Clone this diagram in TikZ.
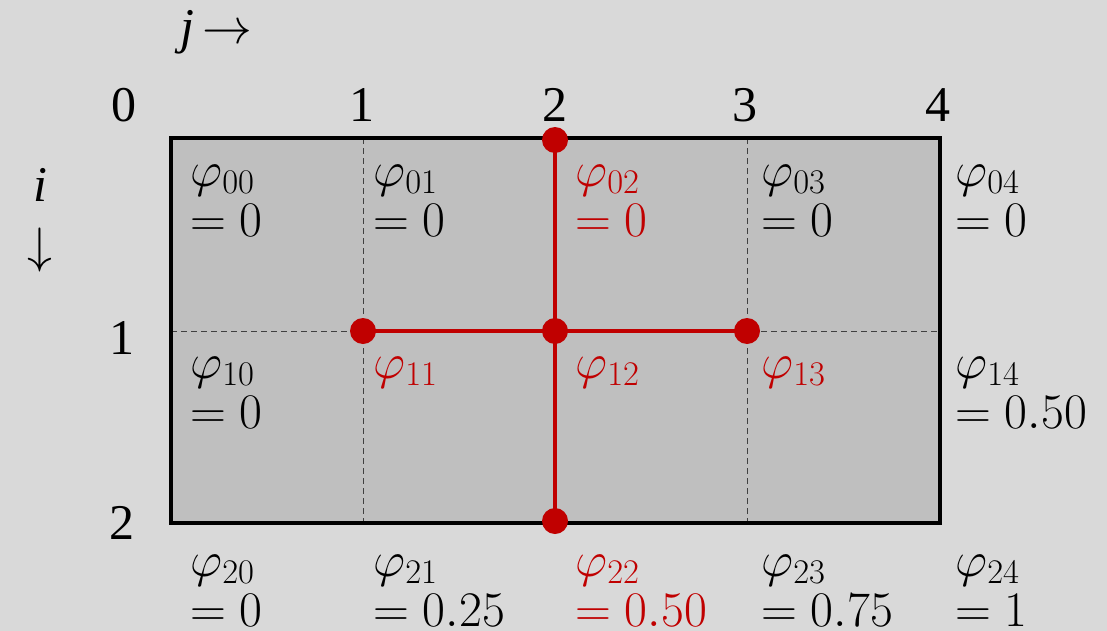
\documentclass[tikz,border=0pt]{standalone}
\usepackage[no-math]{fontspec}
\setmainfont{Liberation Serif}
\newcommand\subs[1]{_{\hbox{\fontsize{16.5}{16.5}\selectfont$#1$}}}
\begin{document}
\begin{tikzpicture}[x=0.5pt,y=-0.5pt,
  lbl/.style={inner sep=0pt,font=\fontsize{25}{30}\selectfont},
  cell/.style={inner sep=0pt,anchor=base west,font=\fontsize{23}{28}\selectfont},
  grid/.style={draw=black!75,line width=0.5pt,dash pattern=on 3pt off 2pt},
  redline/.style={draw=hl,line width=2pt},
  dot/.style={circle,fill=hl,inner sep=0pt,minimum size=13pt}]
\definecolor{bg}{HTML}{D9D9D9}
\definecolor{cellfill}{HTML}{BFBFBF}
\definecolor{hl}{HTML}{C00000}
\fill[bg] (0,0) rectangle (1107,631);
\useasboundingbox (0,0) rectangle (1107,631);
% rectangle
\fill[cellfill] (171,138) rectangle (940,523);
\coordinate (c1t) at (363,138); \coordinate (c1b) at (363,523);
\coordinate (c3t) at (747,138); \coordinate (c3b) at (747,523);
\coordinate (rl) at (171,331); \coordinate (rr) at (940,331);
\draw[grid] (c1t) -- (c1b);
\draw[grid] (c3t) -- (c3b);
\draw[grid] (rl) -- (rr);
\draw[line width=2pt,line join=miter] (171,138) rectangle (940,523);
% red nodes
\node[dot] (n02) at (555,140) {};
\node[dot] (n11) at (363,331) {};
\node[dot] (n12) at (555,331) {};
\node[dot] (n13) at (747,331) {};
\node[dot] (n22) at (555,521) {};
\draw[redline] (n02.center) -- (n12.center) -- (n22.center);
\draw[redline] (n11.center) -- (n12.center) -- (n13.center);
% axis labels
\node[lbl] (jl) at (216,32) {\textit{j}\kern4pt$\rightarrow$};
\node[lbl] (il) at (40,185) {\textit{i}};
\node[lbl] (ia) at (40,250) {$\downarrow$};
\node[lbl] (c0) at (124,105) {0};
\node[lbl] (c1) at (362,105) {1};
\node[lbl] (c2) at (555,105) {2};
\node[lbl] (c3) at (745,105) {3};
\node[lbl] (c4) at (938,105) {4};
\node[lbl] (r1) at (122,338) {1};
\node[lbl] (r2) at (122,523) {2};
% cell labels row 0
\node[cell] (p00) at (190,186) {$\varphi\subs{00}$};
\node[cell] (v00) at (190,236) {$=0$};
\node[cell] (p01) at (373,186) {$\varphi\subs{01}$};
\node[cell] (v01) at (373,236) {$=0$};
\node[cell,text=hl] (p02) at (575,186) {$\varphi\subs{02}$};
\node[cell,text=hl] (v02) at (575,236) {$=0$};
\node[cell] (p03) at (761,186) {$\varphi\subs{03}$};
\node[cell] (v03) at (761,236) {$=0$};
\node[cell] (p04) at (955,186) {$\varphi\subs{04}$};
\node[cell] (v04) at (955,236) {$=0$};
% row 1
\node[cell] (p10) at (190,378) {$\varphi\subs{10}$};
\node[cell] (v10) at (190,428) {$=0$};
\node[cell,text=hl] (p11) at (373,378) {$\varphi\subs{11}$};
\node[cell,text=hl] (p12) at (575,378) {$\varphi\subs{12}$};
\node[cell,text=hl] (p13) at (761,378) {$\varphi\subs{13}$};
\node[cell] (p14) at (955,378) {$\varphi\subs{14}$};
\node[cell] (v14) at (955,428) {$=0.50$};
% row 2
\node[cell] (p20) at (190,576) {$\varphi\subs{20}$};
\node[cell] (v20) at (190,626) {$=0$};
\node[cell] (p21) at (373,576) {$\varphi\subs{21}$};
\node[cell] (v21) at (373,626) {$=0.25$};
\node[cell,text=hl] (p22) at (575,576) {$\varphi\subs{22}$};
\node[cell,text=hl] (v22) at (575,626) {$=0.50$};
\node[cell] (p23) at (761,576) {$\varphi\subs{23}$};
\node[cell] (v23) at (761,626) {$=0.75$};
\node[cell] (p24) at (955,576) {$\varphi\subs{24}$};
\node[cell] (v24) at (955,626) {$=1$};
\end{tikzpicture}
\end{document}
